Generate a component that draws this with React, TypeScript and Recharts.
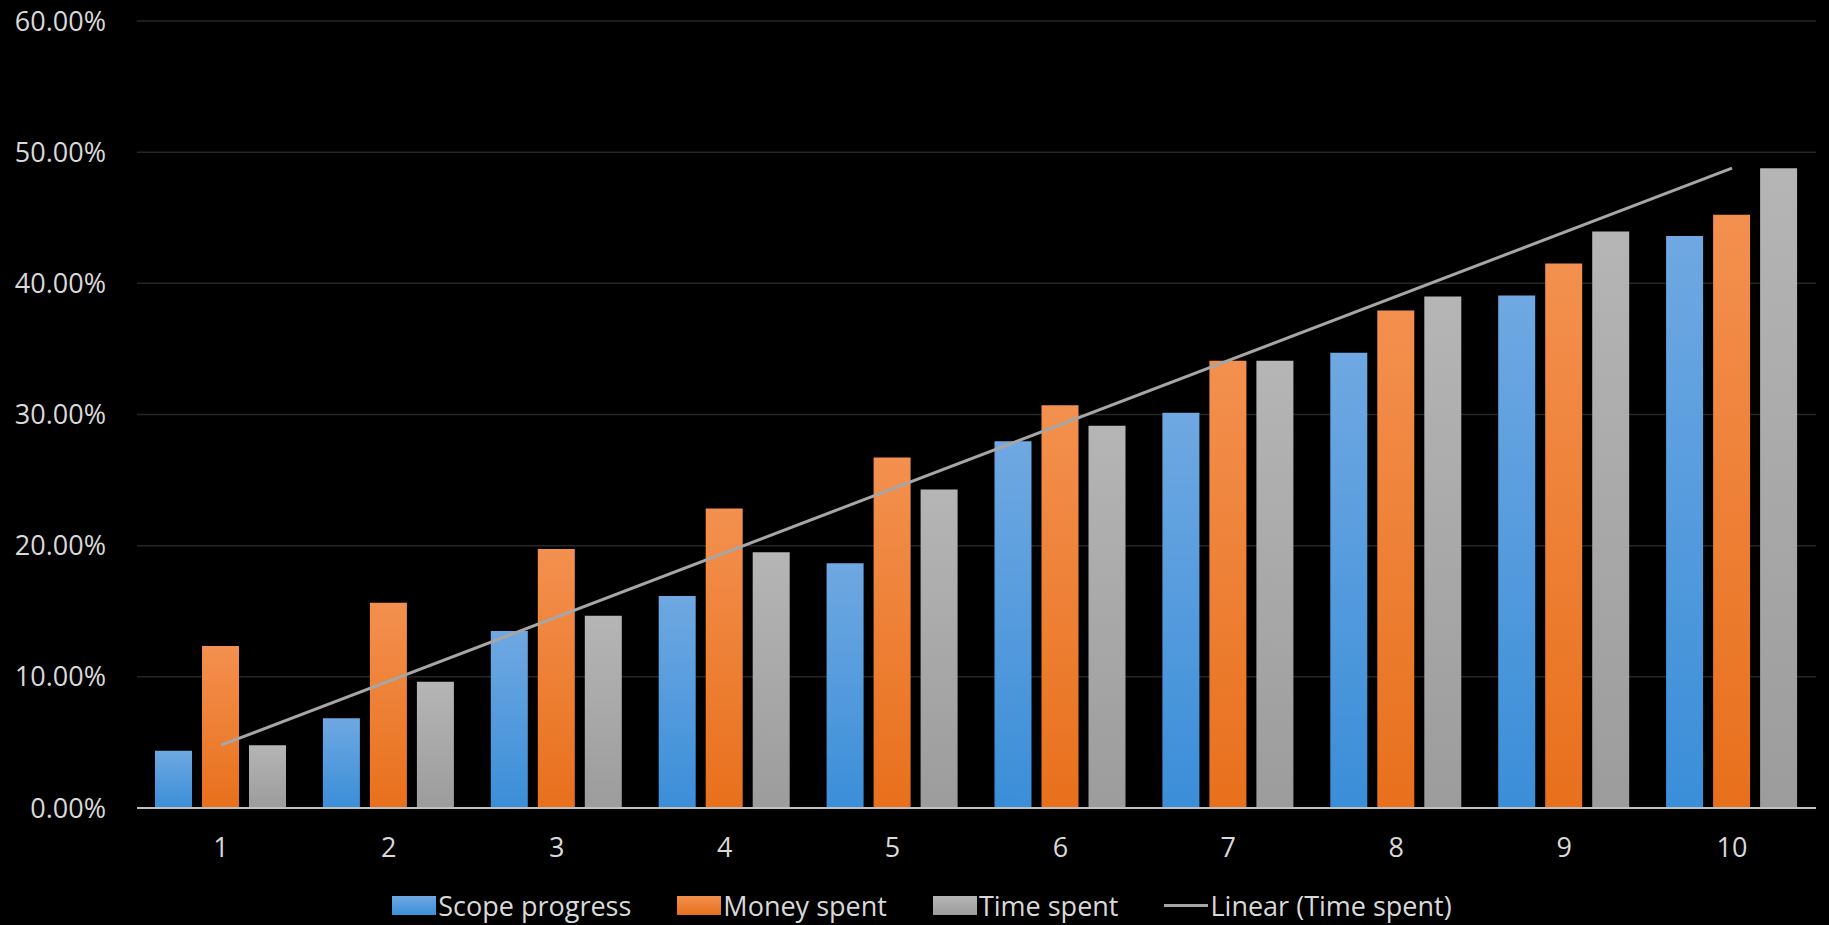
import React from 'react';
import { ComposedChart, Bar, Line, XAxis, YAxis, CartesianGrid, Legend } from 'recharts';

// Project progress per reporting period (percent)
const periods = ['1', '2', '3', '4', '5', '6', '7', '8', '9', '10'];
const scopeProgress = [4.36, 6.84, 13.49, 16.16, 18.65, 27.96, 30.14, 34.71, 39.08, 43.6];
const moneySpent = [12.35, 15.65, 19.74, 22.84, 26.73, 30.7, 34.1, 37.93, 41.52, 45.23];
const timeSpent = [4.79, 9.63, 14.66, 19.49, 24.29, 29.15, 34.1, 39.0, 43.96, 48.77];
// Linear trendline of time spent: end points at the first and last period
const timeTrend: (number | null)[] = [4.79, null, null, null, null, null, null, null, null, 48.78];
const yTicks = [0, 10, 20, 30, 40, 50, 60];

const legendItems = [
  { label: 'Scope progress', kind: 'box', fill: 'url(#gBlue)' },
  { label: 'Money spent', kind: 'box', fill: 'url(#gOrange)' },
  { label: 'Time spent', kind: 'box', fill: 'url(#gGray)' },
  { label: 'Linear (Time spent)', kind: 'line', fill: '#a6a6a6' },
];

const data = periods.map((p, i) => ({
  period: p,
  scope: scopeProgress[i],
  money: moneySpent[i],
  time: timeSpent[i],
  trend: timeTrend[i],
}));

const FONT = '"Open Sans", sans-serif';
const TEXT = '#d9d9d9';

const swatchGradients: Record<string, [string, string]> = {
  'url(#gBlue)': ['#6fa8e2', '#3a8ed8'],
  'url(#gOrange)': ['#f3904f', '#e8701c'],
  'url(#gGray)': ['#b5b5b5', '#9c9c9c'],
};

function ChartLegend() {
  return (
    <div
      style={{
        height: 40,
        display: 'flex',
        justifyContent: 'center',
        alignItems: 'center',
        paddingLeft: 28,
        fontFamily: FONT,
        fontSize: 27,
        color: TEXT,
        whiteSpace: 'nowrap',
      }}
    >
      {legendItems.map((it, i) => (
        <div
          key={it.label}
          style={{ display: 'flex', alignItems: 'center', marginRight: i < legendItems.length - 1 ? 46 : 0 }}
        >
          {it.kind === 'box' ? (
            <div
              style={{
                width: 44,
                height: 19,
                background: `linear-gradient(${swatchGradients[it.fill][0]}, ${swatchGradients[it.fill][1]})`,
                marginRight: 2,
              }}
            />
          ) : (
            <div style={{ width: 44, height: 3, background: it.fill, marginRight: 2 }} />
          )}
          <span>{it.label}</span>
        </div>
      ))}
    </div>
  );
}

export default function App() {
  return (
    <div style={{ position: 'absolute', left: 0, top: 0, width: 1829, height: 925, background: '#000' }}>
      <ComposedChart
        width={1829}
        height={925}
        data={data}
        margin={{ top: 21, right: 13, bottom: 0, left: 0 }}
        barSize={37}
        barGap={10}
      >
        <defs>
          <linearGradient id="gBlue" x1="0" y1="0" x2="0" y2="1">
            <stop offset="0%" stopColor="#6fa8e2" />
            <stop offset="100%" stopColor="#3a8ed8" />
          </linearGradient>
          <linearGradient id="gOrange" x1="0" y1="0" x2="0" y2="1">
            <stop offset="0%" stopColor="#f3904f" />
            <stop offset="100%" stopColor="#e8701c" />
          </linearGradient>
          <linearGradient id="gGray" x1="0" y1="0" x2="0" y2="1">
            <stop offset="0%" stopColor="#b5b5b5" />
            <stop offset="100%" stopColor="#9c9c9c" />
          </linearGradient>
        </defs>
        <CartesianGrid vertical={false} stroke="#262626" strokeWidth={1.5} />
        <XAxis
          dataKey="period"
          height={77}
          tickLine={false}
          tickSize={0}
          tickMargin={30}
          axisLine={{ stroke: '#bfbfbf', strokeWidth: 2 }}
          tick={{ fill: TEXT, fontSize: 27, fontFamily: FONT }}
        />
        <YAxis
          width={137}
          domain={[0, 60]}
          ticks={yTicks}
          axisLine={false}
          tickLine={false}
          tickSize={0}
          tickMargin={31}
          tickFormatter={(v: number) => `${v.toFixed(2)}%`}
          tick={{ fill: TEXT, fontSize: 27, fontFamily: FONT }}
        />
        <Bar dataKey="scope" name="Scope progress" fill="url(#gBlue)" isAnimationActive={false} />
        <Bar dataKey="money" name="Money spent" fill="url(#gOrange)" isAnimationActive={false} />
        <Bar dataKey="time" name="Time spent" fill="url(#gGray)" isAnimationActive={false} />
        <Line
          dataKey="trend"
          name="Linear (Time spent)"
          stroke="#a6a6a6"
          strokeWidth={3}
          dot={false}
          activeDot={false}
          connectNulls
          isAnimationActive={false}
        />
        <Legend verticalAlign="bottom" align="center" content={() => <ChartLegend />} />
      </ComposedChart>
    </div>
  );
}
